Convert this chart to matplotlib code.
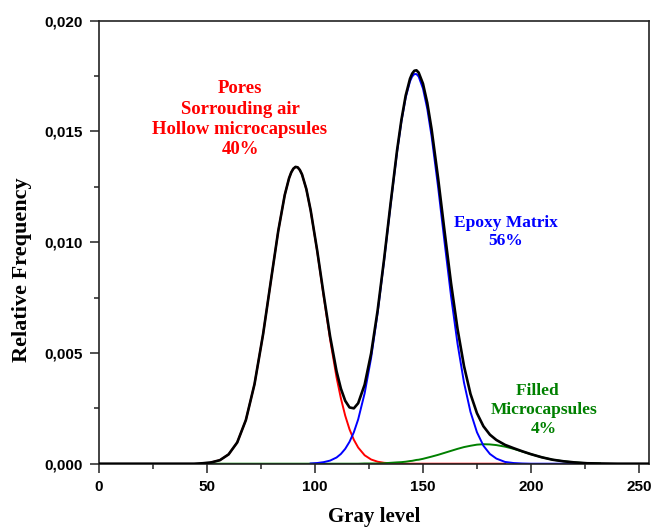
import numpy as np
import matplotlib
matplotlib.use('Agg')
from matplotlib import pyplot as plt
from matplotlib.ticker import MultipleLocator, FuncFormatter

gray = [0, 30, 44, 48, 52, 56, 60, 64, 68, 72,
        76, 80, 83, 86, 88, 89, 90, 91, 92, 93,
        94, 96, 98, 101, 104, 107, 110, 112, 114, 116,
        118, 120, 123, 126, 129, 132, 135, 138, 140, 142,
        144, 145, 146, 147, 148, 150, 152, 154, 157, 160,
        163, 166, 169, 172, 175, 178, 181, 184, 188, 192,
        196, 200, 205, 210, 215, 220, 226, 232, 240, 255]

# pores / surrounding air / hollow microcapsules (red)
pores = [0, 0, 0, 0.00002, 0.00006, 0.00016, 0.00042, 0.00096, 0.00197, 0.00359,
         0.00586, 0.00853, 0.01051, 0.01213, 0.01289, 0.01315, 0.01332, 0.01340, 0.01338, 0.01326,
         0.01306, 0.01239, 0.01143, 0.00961, 0.00758, 0.00561, 0.00389, 0.00295, 0.00217, 0.00155,
         0.00108, 0.00073, 0.00038, 0.00019, 0.00009, 0.00004, 0.00002, 0.00001, 0, 0,
         0, 0, 0, 0, 0, 0, 0, 0, 0, 0,
         0, 0, 0, 0, 0, 0, 0, 0, 0, 0,
         0, 0, 0, 0, 0, 0, 0, 0, 0, 0]

# epoxy matrix (blue)
epoxy = [0, 0, 0, 0, 0, 0, 0, 0, 0, 0,
         0, 0, 0, 0, 0, 0, 0, 0, 0, 0,
         0, 0.00001, 0.00001, 0.00003, 0.00007, 0.00014, 0.00028, 0.00044, 0.00067, 0.00099,
         0.00142, 0.00200, 0.00318, 0.00478, 0.00681, 0.00917, 0.01168, 0.01407, 0.01544, 0.01653,
         0.01726, 0.01748, 0.01759, 0.01759, 0.01748, 0.01694, 0.01602, 0.01478, 0.01250, 0.01000,
         0.00757, 0.00542, 0.00366, 0.00234, 0.00142, 0.00081, 0.00044, 0.00023, 0.00008, 0.00003,
         0.00001, 0, 0, 0, 0, 0, 0, 0, 0, 0]

# filled microcapsules (green)
filled = [0, 0, 0, 0, 0, 0, 0, 0, 0, 0,
          0, 0, 0, 0, 0, 0, 0, 0, 0, 0,
          0, 0, 0, 0, 0, 0, 0, 0, 0, 0,
          0, 0, 0.00001, 0.00001, 0.00001, 0.00002, 0.00004, 0.00006, 0.00007, 0.00009,
          0.00012, 0.00013, 0.00015, 0.00017, 0.00018, 0.00022, 0.00027, 0.00032, 0.00040, 0.00049,
          0.00058, 0.00067, 0.00075, 0.00081, 0.00086, 0.00088, 0.00087, 0.00084, 0.00077, 0.00067,
          0.00055, 0.00043, 0.00029, 0.00018, 0.00011, 0.00006, 0.00002, 0.00001, 0, 0]

gray = np.array(gray, dtype=float)
pores = np.array(pores)
epoxy = np.array(epoxy)
filled = np.array(filled)
total = pores + epoxy + filled

serif = 'Liberation Serif'
sans = 'Liberation Sans'

fig = plt.figure(figsize=(6.54, 5.29), dpi=100)
ax = fig.add_axes([99 / 654, 65.3 / 529, 550.3 / 654, 443 / 529])

m = (gray >= 52) & (gray <= 190)
ax.plot(gray[m], pores[m], color='#ff0000', lw=1.4, zorder=2)
m = (gray >= 52) & (gray <= 232)
ax.plot(gray[m], filled[m], color='#008000', lw=1.4, zorder=2)
m = (gray >= 98) & (gray <= 226)
ax.plot(gray[m], epoxy[m], color='#0000ff', lw=1.4, zorder=2)
ax.plot(gray, total, color='black', lw=1.9, zorder=3)

ax.set_xlim(0, 254.8)
ax.set_ylim(0, 0.020)

ax.xaxis.set_major_locator(MultipleLocator(50))
ax.xaxis.set_minor_locator(MultipleLocator(25))
ax.yaxis.set_major_locator(MultipleLocator(0.005))
ax.yaxis.set_minor_locator(MultipleLocator(0.0025))
ax.yaxis.set_major_formatter(FuncFormatter(lambda v, p: f'{v:.3f}'.replace('.', ',')))

ax.tick_params(which='major', direction='out', length=6.5, width=1.1, color='#222222')
ax.tick_params(which='minor', direction='out', length=3.8, width=1.1, color='#222222')
ax.tick_params(axis='y', which='major', pad=5.4)
ax.tick_params(axis='x', which='major', pad=5)
for lab in ax.get_xticklabels() + ax.get_yticklabels():
    lab.set_fontfamily(sans)
    lab.set_fontweight('bold')
    lab.set_fontsize(11)
for s in ax.spines.values():
    s.set_linewidth(1.2)
    s.set_color('#222222')

ax.set_xlabel('Gray level', family=serif, fontweight='bold', fontsize=15, va='center')
ax.xaxis.set_label_coords(0.5, -0.120)
ax.set_ylabel('Relative Frequency', family=serif, fontweight='bold', fontsize=16, va='center')
ax.yaxis.set_label_coords(-0.14, 0.437)

ax.text(65.3, 0.01555, 'Pores\nSorrouding air\nHollow microcapsules\n40%',
        color='#ff0000', family=serif, fontweight='bold', fontsize=13.5,
        ha='center', va='center', multialignment='center', linespacing=1.25)
ax.text(188.4, 0.01047, 'Epoxy Matrix\n56%',
        color='#0000ff', family=serif, fontweight='bold', fontsize=12.5,
        ha='center', va='center', multialignment='center', linespacing=1.2)
ax.text(206, 0.00242, 'Filled   \nMicrocapsules\n4%',
        color='#008000', family=serif, fontweight='bold', fontsize=12.5,
        ha='center', va='center', multialignment='center', linespacing=1.25)

fig.savefig('out.png', dpi=100)
